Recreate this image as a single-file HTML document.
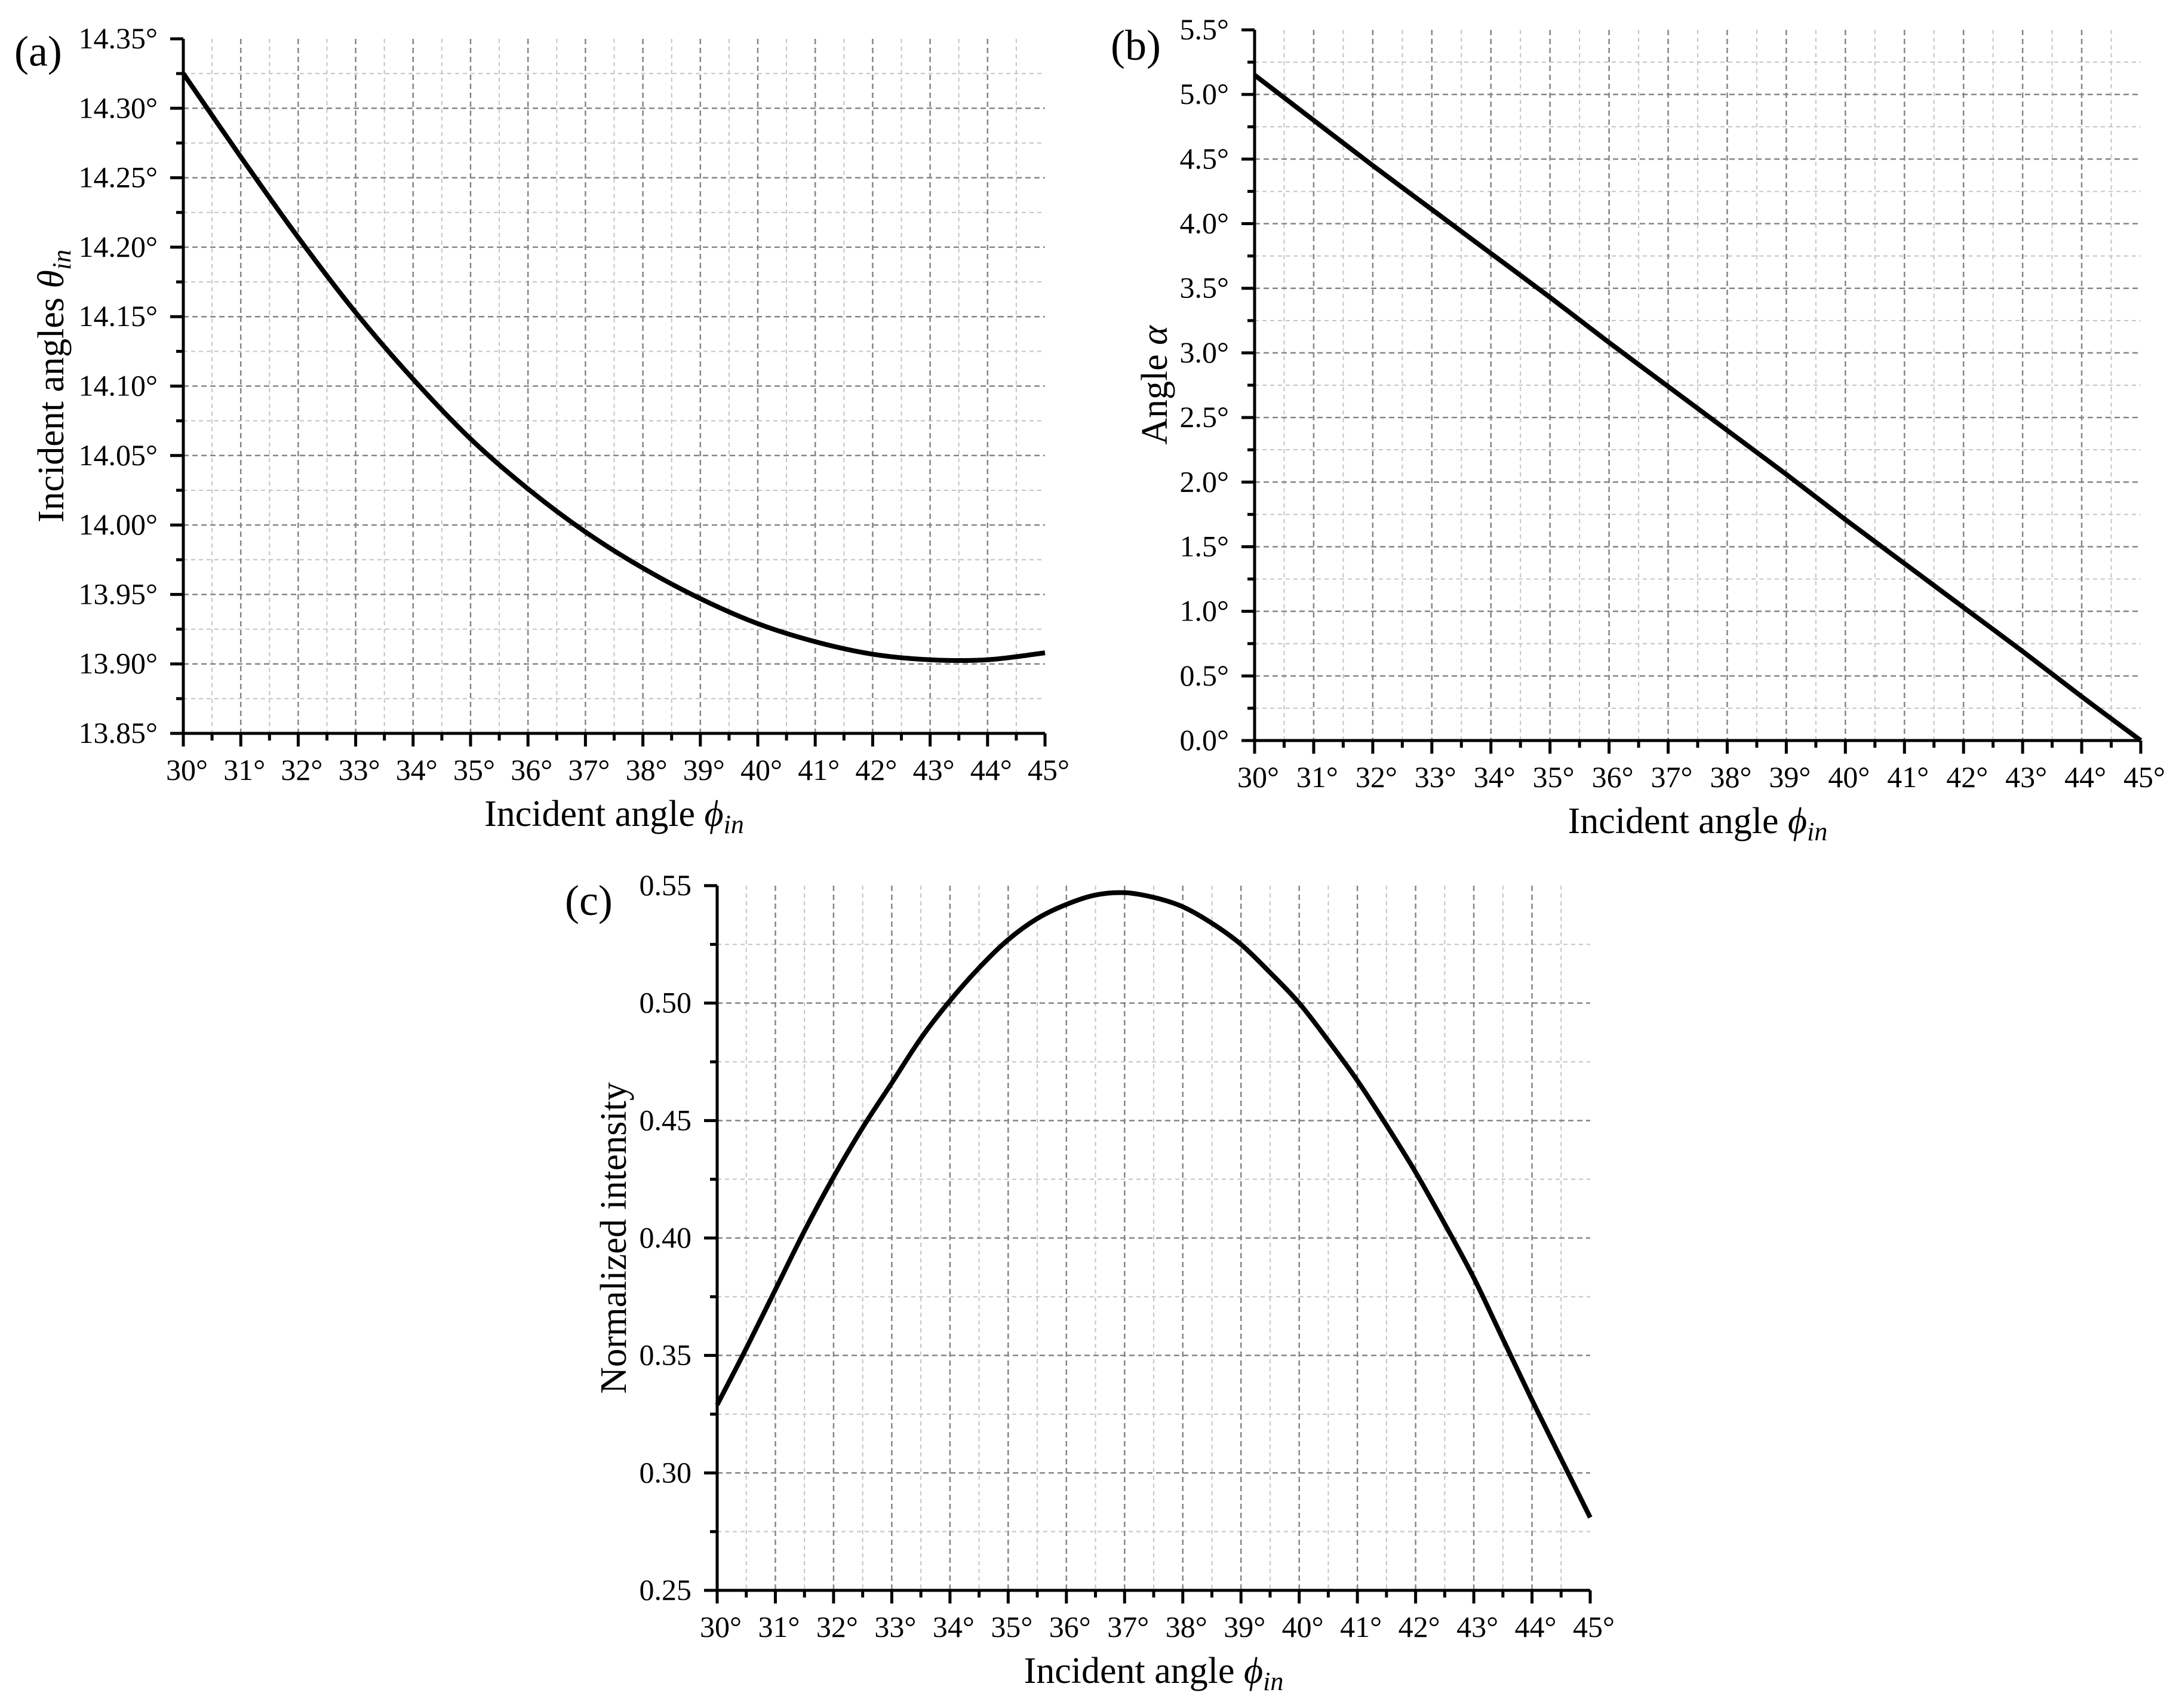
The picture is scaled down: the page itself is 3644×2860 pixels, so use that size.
<!DOCTYPE html>
<html><head><meta charset="utf-8"><style>
html,body{margin:0;padding:0;background:#fff;}
svg, svg text{font-family:"Liberation Serif","DejaVu Serif",serif;}
</style></head><body>
<svg id="fig" width="3644" height="2855" viewBox="0 0 3644 2855" xmlns="http://www.w3.org/2000/svg" font-family="Liberation Serif, DejaVu Serif, serif">
<rect width="3644" height="2855" fill="#fff"/>
<text x="24" y="110" font-size="72" font-family="Liberation Serif, serif">(a)</text>
<text x="1860" y="100" font-size="72" font-family="Liberation Serif, serif">(b)</text>
<text x="946" y="1532" font-size="72" font-family="Liberation Serif, serif">(c)</text>
</svg>
<script>
// shared x data
const xTicks = [30,31,32,33,34,35,36,37,38,39,40,41,42,43,44,45];
// panel (a)
const aX = [30,31,32,33,34,35,36,37,38,39,40,41,42,43,44,45];
const aY = [14.325,14.265,14.207,14.153,14.105,14.062,14.026,13.995,13.969,13.947,13.929,13.916,13.907,13.903,13.903,13.908];
const aYTicks = ["13.85°","13.90°","13.95°","14.00°","14.05°","14.10°","14.15°","14.20°","14.25°","14.30°","14.35°"];
// panel (b)
const bX = [30,31,32,33,34,35,36,37,38,39,40,41,42,43,44,45];
const bY = [5.15,4.80,4.45,4.11,3.77,3.43,3.08,2.74,2.40,2.06,1.71,1.37,1.03,0.69,0.34,0.0];
const bYTicks = ["0.0°","0.5°","1.0°","1.5°","2.0°","2.5°","3.0°","3.5°","4.0°","4.5°","5.0°","5.5°"];
// panel (c)
const cX = [30,30.5,31,31.5,32,32.5,33,33.5,34,34.5,35,35.5,36,36.5,37,37.5,38,38.5,39,39.5,40,40.5,41,41.5,42,42.5,43,43.5,44,44.5,45];
const cY = [0.329,0.353,0.378,0.403,0.426,0.447,0.466,0.485,0.501,0.515,0.527,0.536,0.542,0.546,0.547,0.545,0.541,0.534,0.525,0.513,0.500,0.484,0.467,0.448,0.428,0.406,0.383,0.357,0.331,0.306,0.281];
const cYTicks = ["0.25","0.30","0.35","0.40","0.45","0.50","0.55"];

const NS = "http://www.w3.org/2000/svg";
const svg = document.getElementById('fig');
const FF = 'Liberation Serif, DejaVu Serif, serif';
function mk(tag, attrs, parent){
  const e = document.createElementNS(NS, tag);
  for (const k in attrs) e.setAttribute(k, attrs[k]);
  (parent||svg).appendChild(e);
  return e;
}
function panel(id, box, xmin, xmax, ymin, ymax, ystep, yTicks, xs, ys, yTitleParts, yTitleX){
  const g = mk('g', {});
  
  
  const L=box[0], R=box[1], T=box[2], B=box[3];
  const sx = v => L + (v - xmin) / (xmax - xmin) * (R - L);
  const sy = v => B - (v - ymin) / (ymax - ymin) * (B - T);
  for (let v = xmin + 0.5; v < xmax; v += 1) {
    const l = mk('line', {x1:sx(v), x2:sx(v), y1:T, y2:B, stroke:'#c4c4c4', 'stroke-width':2, 'stroke-dasharray':'7 6'}, g);
    
    
  }
  const n = yTicks.length - 1;
  for (let i = 0; i < n; i++) {
    const v = ymin + (i + 0.5) * ystep;
    const l = mk('line', {x1:L, x2:R, y1:sy(v), y2:sy(v), stroke:'#c4c4c4', 'stroke-width':2, 'stroke-dasharray':'7 6'}, g);
    
    
  }
  for (let v = xmin + 1; v < xmax; v += 1) {
    const l = mk('line', {x1:sx(v), x2:sx(v), y1:T, y2:B, stroke:'#858585', 'stroke-width':2.5, 'stroke-dasharray':'9 6'}, g);
    
    
  }
  for (let i = 1; i < n; i++) {
    const v = ymin + i * ystep;
    const l = mk('line', {x1:L, x2:R, y1:sy(v), y2:sy(v), stroke:'#858585', 'stroke-width':2.5, 'stroke-dasharray':'9 6'}, g);
    
    
  }
  // series (smooth Catmull-Rom)
  const P = xs.map((x,i)=>[sx(x), sy(ys[i])]);
  let d = 'M' + P[0][0] + ' ' + P[0][1];
  for (let i = 0; i < P.length - 1; i++) {
    const p0 = P[i-1] || P[i], p1 = P[i], p2 = P[i+1], p3 = P[i+2] || P[i+1];
    const c1 = [p1[0] + (p2[0]-p0[0])/6, p1[1] + (p2[1]-p0[1])/6];
    const c2 = [p2[0] - (p3[0]-p1[0])/6, p2[1] - (p3[1]-p1[1])/6];
    d += ' C' + c1.join(' ') + ' ' + c2.join(' ') + ' ' + p2.join(' ');
  }
  const line = mk('path', {d:d, fill:'none', stroke:'#000', 'stroke-width':8, 'stroke-linejoin':'round'}, g);
  
  
  const ax = mk('path', {d:'M'+L+' '+T+' L'+L+' '+B+' L'+R+' '+B, fill:'none', stroke:'#000', 'stroke-width':5}, g);
  
  
  for (let v = xmin; v <= xmax + 1e-9; v += 0.5) {
    const major = Math.abs(v - Math.round(v)) < 1e-9;
    const t = mk('line', {x1:sx(v), x2:sx(v), y1:B, y2:B + (major?22:12), stroke:'#000', 'stroke-width':5}, g);
    
    
  }
  xTicks.forEach(v => {
    const t = mk('text', {x:sx(v)+6, y:B+78, 'font-size':50, 'text-anchor':'middle', 'font-family':FF}, g);
    t.textContent = v + '°';
    
    
  });
  for (let i = 0; i <= 2*n; i++) {
    const v = ymin + i * ystep / 2;
    const major = i % 2 === 0;
    const t = mk('line', {x1:L - (major?22:12), x2:L, y1:sy(v), y2:sy(v), stroke:'#000', 'stroke-width':5}, g);
    
    
  }
  yTicks.forEach((s, i) => {
    const t = mk('text', {x:L-43, y:sy(ymin + i*ystep)+16, 'font-size':50, 'text-anchor':'end', 'font-family':FF}, g);
    t.textContent = s;
    
    
  });
  const xt = mk('text', {x:(L+R)/2, y:B+155, 'font-size':62, 'text-anchor':'middle', 'font-family':FF}, g);
  
  
  xt.appendChild(document.createTextNode('Incident angle '));
  const ph = mk('tspan', {'font-style':'italic'}, xt); ph.textContent = 'ϕ';
  const sub = mk('tspan', {'font-style':'italic', 'font-size':44, dy:12}, xt); sub.textContent = 'in';
  const cy = (T+B)/2;
  const yt = mk('text', {x:yTitleX, y:cy, 'font-size':62, 'text-anchor':'middle', 'font-family':FF, transform:'rotate(-90 '+yTitleX+' '+cy+')'}, g);
  
  
  yt.appendChild(document.createTextNode(yTitleParts[0]));
  if (yTitleParts[1]) { const s = mk('tspan', {'font-style':'italic'}, yt); s.textContent = yTitleParts[1]; }
  if (yTitleParts[2]) { const s = mk('tspan', {'font-style':'italic','font-size':44, dy:12}, yt); s.textContent = yTitleParts[2]; }
}
panel('a', [307,1750,65,1228], 30, 45, 13.85, 14.35, 0.05, aYTicks, aX, aY, ['Incident angles ','θ','in'], 106);
panel('b', [2101,3585,50,1240], 30, 45, 0, 5.5, 0.5, bYTicks, bX, bY, ['Angle ','α',''], 1954);
panel('c', [1201,2663,1483,2663], 30, 45, 0.25, 0.55, 0.05, cYTicks, cX, cY, ['Normalized intensity','',''], 1048);
</script>
</body></html>
